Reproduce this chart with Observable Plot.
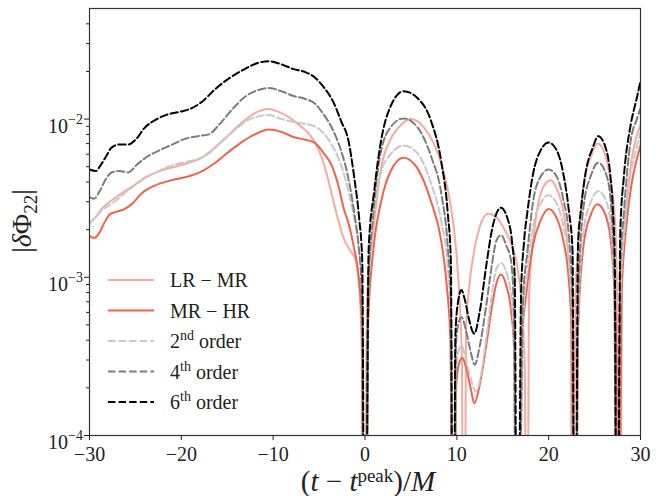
<!DOCTYPE html>
<html><head><meta charset="utf-8">
<script src="https://cdn.jsdelivr.net/npm/d3@7"></script>
<script src="https://cdn.jsdelivr.net/npm/@observablehq/plot@0.6"></script>
<style>
body{margin:0;background:#fff;}
#chart{width:664px;height:496px;}
</style></head><body><div id="chart"></div>
<script>
// ---------- data ----------
const xTicks = [-30, -20, -10, 0, 10, 20, 30];
const yMajorTicks = [1e-4, 1e-3, 1e-2];
const yMajorExp = ["−4", "−3", "−2"];
const yMinorTicks = [2e-4,3e-4,4e-4,5e-4,6e-4,7e-4,8e-4,9e-4,2e-3,3e-3,4e-3,5e-3,6e-3,7e-3,8e-3,9e-3,2e-2,3e-2,4e-2];

const seriesMain = ["LR − MR", "MR − HR", "2", "4", "6"];
const seriesSup  = ["", "", "nd", "th", "th"];
const seriesTail = ["", "", " order", " order", " order"];
const seriesColors = ["#f5ab9f", "#ee644b", "#c9c9c9", "#7c7c7c", "#000000"];
const seriesDashed = [false, false, true, true, true];

const lrMr = [[-30,0.00224],[-29.3,0.0024],[-28.7,0.0027],[-27.8,0.0030],[-26.5,0.0034],[-25.2,0.0038],[-23.9,0.0043],[-22.3,0.0047],[-20.7,0.0050],[-19.2,0.0053],[-18.0,0.0056],[-16.5,0.0065],[-15.0,0.0078],[-13.5,0.0094],[-12.0,0.0109],[-10.5,0.0116],[-9.1,0.0109],[-8.0,0.0100],[-7.0,0.0090],[-5.9,0.0078],[-5.0,0.0063],[-4.3,0.0048],[-3.7,0.0035],[-3.0,0.0024],[-2.3,0.00175],[-1.6,0.00147],[-1.0,0.00127],[-0.6,0.00082],[-0.35,0.00034],[-0.15,1e-6],
 [0.2,0.00071],[0.9,0.00196],[1.75,0.0049],[2.8,0.0075],[3.7,0.0089],[5.0,0.0100],[6.4,0.0089],[7.5,0.0070],[8.5,0.0048],[9.3,0.0029],[9.9,0.00154],[10.3,0.00071],[10.55,0.0003],[10.75,1e-6],
 [11.0,0.00046],[11.3,0.00082],[11.8,0.00137],[12.4,0.0020],[13.4,0.00252],[14.4,0.00237],[15.2,0.0020],[16.0,0.00158],[16.6,0.00115],[17.1,0.00062],[17.4,0.00026],[17.6,1e-6],
 [17.85,0.00071],[18.3,0.0017],[18.8,0.0028],[19.4,0.0037],[20.2,0.0041],[20.9,0.0036],[21.6,0.0026],[22.1,0.00147],[22.4,0.00062],[22.6,1e-6],
 [22.9,0.00071],[23.3,0.00183],[23.8,0.0038],[24.6,0.0058],[25.3,0.0070],[26.0,0.0063],[26.7,0.0042],[27.2,0.0024],[27.45,0.00082],[27.65,1e-6],
 [28.0,0.00095],[28.5,0.0030],[29.0,0.0054],[29.5,0.0075],[30,0.0092]];

const mrHr = [[-30,0.00183],[-29.5,0.00177],[-29.0,0.00188],[-28.4,0.0022],[-27.8,0.0025],[-27.0,0.0026],[-26.2,0.0027],[-25.4,0.0029],[-24.3,0.0034],[-22.9,0.0038],[-21.1,0.0041],[-19.5,0.0043],[-18.0,0.0046],[-16.5,0.0052],[-15.0,0.0061],[-13.5,0.0071],[-12.0,0.0080],[-10.5,0.0086],[-9.1,0.0083],[-7.8,0.0077],[-6.5,0.0074],[-5.5,0.0071],[-4.5,0.0061],[-3.7,0.0052],[-2.9,0.0038],[-2.3,0.0027],[-1.8,0.0022],[-1.2,0.00154],[-0.7,0.00102],[-0.35,0.00053],[-0.05,1e-6],
 [0.35,0.00053],[0.9,0.00147],[1.75,0.0030],[2.8,0.0047],[4.2,0.0057],[5.7,0.0049],[7.2,0.0030],[8.3,0.0017],[8.9,0.00089],[9.3,0.0004],[9.65,1e-6],
 [9.9,0.00019],[10.2,0.00028],[10.6,0.00031],[11.0,0.00027],[11.5,0.0002],[11.9,0.00016],[12.5,0.00021],[13.2,0.00037],[13.8,0.00064],[14.3,0.00091],[14.8,0.00104],[15.4,0.00088],[15.9,0.00062],[16.25,0.00034],[16.6,1e-6],
 [17.1,0.0004],[17.6,0.00082],[18.3,0.0016],[19.1,0.00227],[20.0,0.0027],[20.9,0.00235],[21.6,0.0017],[22.2,0.00095],[22.55,0.0004],[22.85,1e-6],
 [23.2,0.00046],[23.8,0.0016],[24.6,0.0025],[25.3,0.0029],[26.0,0.00263],[26.7,0.00183],[27.1,0.00095],[27.35,0.0004],[27.55,1e-6],
 [27.9,0.00071],[28.4,0.00196],[29.0,0.0038],[29.5,0.0053],[30,0.0068]];

const order2 = [[-30,0.00218],[-28.7,0.00263],[-27.3,0.0030],[-25.9,0.0035],[-24.3,0.0041],[-22.8,0.0046],[-21.0,0.0051],[-19.2,0.0054],[-17.5,0.0058],[-15.8,0.0070],[-14.1,0.0086],[-12.5,0.0100],[-10.5,0.0106],[-9.1,0.0100],[-7.0,0.0094],[-5.5,0.0090],[-3.7,0.0070],[-2.6,0.0051],[-1.8,0.0035],[-1.2,0.0024],[-0.7,0.00158],[-0.35,0.00088],[0,1e-6],
 [0.35,0.00071],[0.9,0.00227],[1.75,0.0046],[2.8,0.0060],[4.2,0.0068],[5.7,0.0061],[7.2,0.0039],[8.3,0.00227],[9.0,0.00118],[9.35,0.00053],[9.6,1e-6],
 [9.9,0.000257],[10.2,0.000344],[10.5,0.00037],[11.0,0.0003],[11.5,0.00023],[12.05,0.00019],[12.5,0.00022],[13.2,0.00041],[13.8,0.00077],[14.3,0.00113],[14.8,0.00123],[15.4,0.00107],[15.9,0.00077],[16.2,0.00043],[16.55,1e-6],
 [17.2,0.00053],[17.7,0.0011],[18.3,0.0021],[19.1,0.0029],[20.0,0.0033],[20.9,0.0029],[21.6,0.0021],[22.2,0.00123],[22.55,0.00053],[22.85,1e-6],
 [23.2,0.00053],[23.8,0.00196],[24.6,0.0030],[25.4,0.0035],[26.3,0.0030],[26.8,0.00196],[27.15,0.00071],[27.45,1e-6],
 [27.8,0.00071],[28.3,0.0021],[28.9,0.0044],[29.5,0.0063],[30,0.0082]];

const order4 = [[-30,0.00321],[-29.5,0.00314],[-28.9,0.0035],[-28.2,0.0042],[-27.6,0.0046],[-26.7,0.0047],[-25.8,0.0046],[-24.9,0.0051],[-23.9,0.0057],[-22.5,0.0063],[-21.0,0.0069],[-19.6,0.0075],[-18.2,0.0078],[-17.0,0.0080],[-15.9,0.0092],[-14.4,0.0116],[-13.1,0.0138],[-11.7,0.0152],[-10.5,0.0157],[-9.1,0.0150],[-7.8,0.0140],[-6.5,0.0134],[-5.5,0.0126],[-4.5,0.0107],[-3.7,0.0090],[-2.6,0.0063],[-1.8,0.0042],[-1.2,0.00263],[-0.7,0.00158],[-0.35,0.00082],[0,1e-6],
 [0.35,0.00082],[0.9,0.00252],[1.75,0.0063],[2.8,0.0089],[4.2,0.0101],[5.7,0.0089],[7.2,0.0058],[8.3,0.0034],[9.0,0.0016],[9.35,0.00071],[9.6,1e-6],
 [9.9,0.00037],[10.2,0.00052],[10.5,0.00056],[11.0,0.00046],[11.5,0.00034],[11.95,0.00028],[12.5,0.00037],[13.2,0.00066],[13.8,0.00118],[14.3,0.0017],[14.8,0.00185],[15.4,0.00158],[15.9,0.00127],[16.2,0.00066],[16.55,1e-6],
 [17.2,0.00071],[17.7,0.00147],[18.3,0.0030],[19.1,0.0043],[20.0,0.0048],[20.9,0.0043],[21.6,0.0031],[22.2,0.00183],[22.55,0.00082],[22.85,1e-6],
 [23.2,0.00071],[23.8,0.0028],[24.6,0.0044],[25.4,0.0053],[26.3,0.0044],[26.8,0.0028],[27.15,0.00095],[27.45,1e-6],
 [27.8,0.0011],[28.2,0.0026],[28.9,0.0071],[29.6,0.0100],[30,0.0117]];

const order6 = [[-30,0.0048],[-29.3,0.0047],[-28.8,0.0051],[-28.2,0.0058],[-27.6,0.0066],[-26.8,0.0069],[-25.8,0.0069],[-24.9,0.0075],[-24.0,0.0088],[-22.8,0.0099],[-21.7,0.0106],[-20.2,0.0111],[-18.9,0.0117],[-17.8,0.0128],[-16.3,0.0155],[-14.8,0.0181],[-13.1,0.0207],[-11.7,0.0226],[-10.5,0.0232],[-9.1,0.0222],[-7.8,0.0207],[-6.5,0.0198],[-5.5,0.0184],[-4.5,0.0159],[-3.5,0.0130],[-2.6,0.0097],[-1.8,0.0073],[-1.2,0.0044],[-0.65,0.0024],[-0.3,0.00127],[0,1e-6],
 [0.4,0.00153],[1.0,0.0035],[1.75,0.0073],[2.8,0.0121],[4.2,0.0150],[5.7,0.0136],[7.2,0.0097],[8.3,0.0054],[9.0,0.0026],[9.35,0.00127],[9.6,1e-6],
 [9.85,0.00044],[10.15,0.00071],[10.5,0.00083],[10.9,0.00071],[11.3,0.00055],[11.9,0.00044],[12.5,0.00061],[13.2,0.00118],[13.8,0.00196],[14.8,0.00275],[15.5,0.00237],[16.0,0.0017],[16.3,0.00102],[16.6,1e-6],
 [17.0,0.00082],[17.3,0.00163],[17.7,0.00263],[18.3,0.0045],[19.1,0.0063],[20.0,0.0071],[20.9,0.0063],[21.6,0.0045],[22.2,0.00263],[22.6,0.00147],[22.85,1e-6],
 [23.2,0.00163],[23.5,0.00263],[24.0,0.0045],[24.8,0.0066],[25.4,0.0078],[26.2,0.0066],[26.7,0.0045],[27.0,0.00263],[27.2,0.00127],[27.45,1e-6],
 [27.8,0.00196],[28.2,0.0044],[28.9,0.0090],[29.6,0.0136],[30,0.0174]];

const allSeries = [lrMr, mrHr, order2, order4, order6];

// ---------- chart ----------
const FONT = "'Liberation Serif','Times New Roman',serif";
const INK = "#222";

const lineMarks = allSeries.map((data, i) => Plot.line(data, {
  x: d => d[0], y: d => d[1],
  stroke: seriesColors[i], strokeWidth: 2,
  ...(seriesDashed[i] ? {strokeDasharray: "7.4,3.2"} : {}),
  curve: "monotone-x", clip: true
}));

const plot = Plot.plot({
  width: 664, height: 496,
  marginLeft: 89, marginRight: 24, marginTop: 8, marginBottom: 61,
  style: {fontFamily: FONT, fontSize: "20px", background: "#fff", color: INK},
  x: {domain: [-30, 30]},
  y: {type: "log", domain: [1e-4, 0.05]},
  marks: [
    ...lineMarks,
    Plot.frame({stroke: "#333", strokeWidth: 1.2}),
    Plot.axisX({ticks: xTicks, tickSize: 5, tickPadding: 6, label: null,
      tickFormat: d => d < 0 ? "−" + Math.abs(d) : String(d)}),
    Plot.axisY({ticks: yMajorTicks, tickSize: 5, tickPadding: 1.5, label: null,
      tickFormat: d => "10|" + yMajorExp[yMajorTicks.indexOf(d)]}),
    Plot.axisY({ticks: yMinorTicks, tickSize: 3, label: null, tickFormat: () => ""})
  ]
});
document.getElementById("chart").appendChild(plot);

const svg = d3.select(plot);

// y tick labels with superscript exponents
svg.selectAll('g[aria-label="y-axis tick label"] text').each(function() {
  const t = d3.select(this);
  const parts = t.text().split("|");
  if (parts.length < 2) return;
  t.text("").attr("dy", "0.36em");
  t.append("tspan").text(parts[0]);
  t.append("tspan").attr("font-size", 14).attr("dy", -9).text(parts[1]);
});

// legend
const lg = svg.append("g").attr("font-family", FONT).attr("font-size", 20)
  .attr("fill", INK).attr("text-anchor", "start");
seriesMain.forEach((name, i) => {
  const y = 280 + i * 30.5;
  lg.append("line").attr("x1", 108).attr("x2", 154).attr("y1", y).attr("y2", y)
    .attr("stroke", seriesColors[i]).attr("stroke-width", 2)
    .attr("stroke-dasharray", seriesDashed[i] ? "7.4,3.2" : null);
  const tx = lg.append("text").attr("x", 170).attr("y", y + 7).attr("text-anchor", "start");
  tx.append("tspan").text(name);
  if (seriesSup[i]) {
    tx.append("tspan").attr("font-size", 14).attr("dy", -8).text(seriesSup[i]);
    tx.append("tspan").attr("dy", 8).text(seriesTail[i]);
  }
});

// x label: (t − t^peak)/M
const xl = svg.append("text").attr("x", 368).attr("y", 491).attr("text-anchor", "middle")
  .attr("font-family", FONT).attr("font-size", 29).attr("fill", INK);
xl.append("tspan").text("(");
xl.append("tspan").attr("font-style", "italic").text("t");
xl.append("tspan").text(" − ");
xl.append("tspan").attr("font-style", "italic").text("t");
xl.append("tspan").attr("font-size", 19).attr("dy", -9).text("peak");
xl.append("tspan").attr("dy", 9).text(")/");
xl.append("tspan").attr("font-style", "italic").text("M");

// y label: |δΦ22|
const yl = svg.append("text").attr("transform", "translate(31,221) rotate(-90)").attr("text-anchor", "middle")
  .attr("font-family", FONT).attr("font-size", 28).attr("fill", INK);
yl.append("tspan").text("|");
yl.append("tspan").attr("font-style", "italic").text("δ");
yl.append("tspan").text("Φ");
yl.append("tspan").attr("font-size", 19).attr("dy", 6).text("22");
yl.append("tspan").attr("dy", -6).text("|");
</script></body></html>
